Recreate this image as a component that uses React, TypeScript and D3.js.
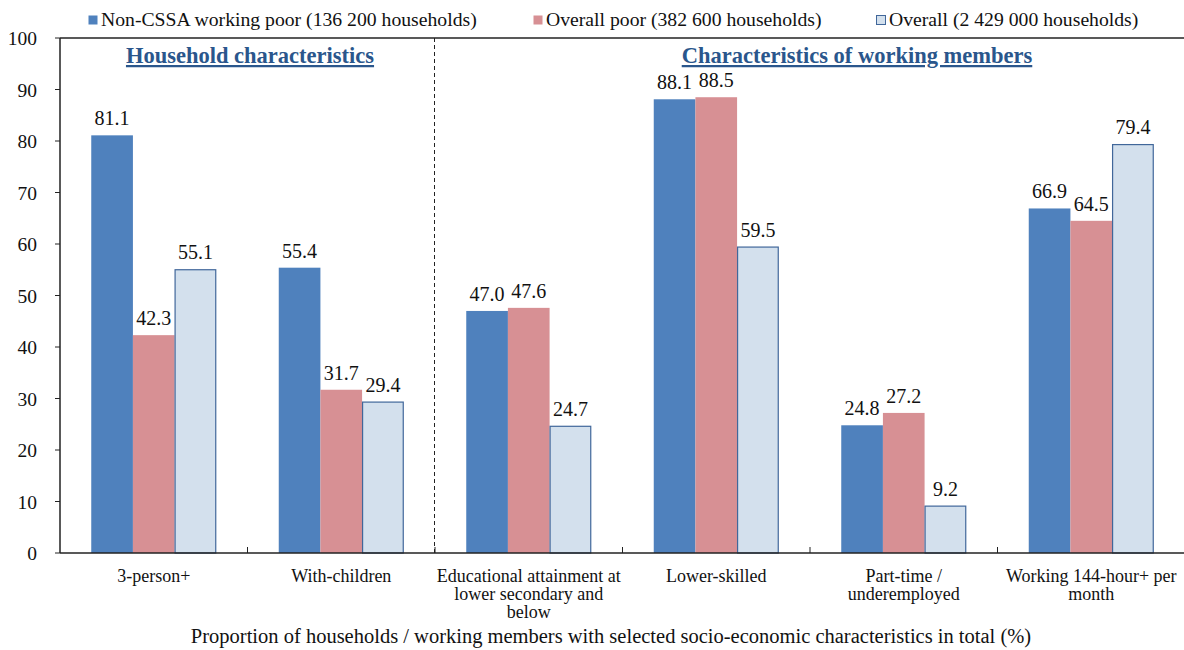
import React from "react";
import * as d3 from "d3";

const categories = [
  ["3-person+"],
  ["With-children"],
  ["Educational attainment at", "lower secondary and", "below"],
  ["Lower-skilled"],
  ["Part-time /", "underemployed"],
  ["Working 144-hour+ per", "month"],
];
const seriesNames = [
  "Non-CSSA working poor (136 200 households)",
  "Overall poor (382 600 households)",
  "Overall (2 429 000 households)",
];
const workingPoor = [81.1, 55.4, 47.0, 88.1, 24.8, 66.9];
const overallPoor = [42.3, 31.7, 47.6, 88.5, 27.2, 64.5];
const overall = [55.1, 29.4, 24.7, 59.5, 9.2, 79.4];
const yTicks = [0, 10, 20, 30, 40, 50, 60, 70, 80, 90, 100];
const headings = ["Household characteristics", "Characteristics of working members"];
const xTitle =
  "Proportion of households / working members with selected socio-economic characteristics in total (%)";

const fills = ["#4f81bd", "#d79094", "#d3e0ed"];
const strokes = ["none", "none", "#41679a"];
const font = '"Liberation Serif", "Times New Roman", "DejaVu Serif", serif';

export default function App() {
  const W = 1184;
  const H = 650;
  const left = 60;
  const right = 1185;
  const top = 38;
  const bottom = 553;
  const series = [workingPoor, overallPoor, overall];

  const x = d3.scaleBand<number>().domain(d3.range(categories.length)).range([left, right]);
  const inner = d3
    .scaleBand<number>()
    .domain([0, 1, 2])
    .range([0, x.bandwidth()])
    .paddingOuter(0.75)
    .paddingInner(0);
  const y = d3.scaleLinear().domain([0, 100]).range([bottom, top]);

  const legendX = [88, 533, 876];
  const textStyle = { fontFamily: font };

  return (
    <svg width={W} height={H} style={{ position: "absolute", left: 0, top: 0, fontFamily: font }}>
      <rect width={W} height={H} fill="#fff" />
      {/* legend */}
      {seriesNames.map((n, i) => (
        <g key={n} transform={`translate(${legendX[i]},0)`}>
          <rect
            x={0.5}
            y={15.5}
            width={9}
            height={9}
            fill={fills[i]}
            stroke={i === 2 ? "#41679a" : "none"}
          />
          <text x={13} y={26} fontSize={19.7} fill="#111" style={textStyle}>
            {n}
          </text>
        </g>
      ))}
      {/* bars */}
      {series.map((vals, s) =>
        vals.map((v, c) => (
          <rect
            key={`${s}-${c}`}
            x={(x(c) as number) + (inner(s) as number) + (s === 2 ? 0.5 : 0)}
            y={y(v) + (s === 2 ? 0.5 : 0)}
            width={inner.bandwidth() - (s === 2 ? 1 : 0)}
            height={bottom - y(v) - (s === 2 ? 0.5 : 0)}
            fill={fills[s]}
            stroke={strokes[s]}
            strokeWidth={1.2}
          />
        ))
      )}
      {/* value labels */}
      {series.map((vals, s) =>
        vals.map((v, c) => (
          <text
            key={`l${s}-${c}`}
            x={(x(c) as number) + (inner(s) as number) + inner.bandwidth() / 2}
            y={y(v) - 10}
            fontSize={20}
            textAnchor="middle"
            fill="#111"
            style={textStyle}
          >
            {v.toFixed(1)}
          </text>
        ))
      )}
      {/* frame */}
      <line x1={left} x2={W} y1={top} y2={top} stroke="#222" strokeWidth={1.5} />
      <line x1={left} x2={left} y1={top} y2={bottom} stroke="#222" strokeWidth={1.5} />
      <line x1={left} x2={W} y1={bottom} y2={bottom} stroke="#222" strokeWidth={1.5} />
      {/* y ticks */}
      {yTicks.map((t) => (
        <g key={t}>
          <line x1={left - 5} x2={left} y1={y(t)} y2={y(t)} stroke="#222" strokeWidth={1} />
          <text x={37} y={y(t) + 7} fontSize={19.5} textAnchor="end" fill="#111" style={textStyle}>
            {t}
          </text>
        </g>
      ))}
      {/* category separators */}
      {d3.range(1, categories.length).map((i) => (
        <line
          key={i}
          x1={x(i) as number}
          x2={x(i) as number}
          y1={bottom - 6}
          y2={bottom}
          stroke="#222"
          strokeWidth={1}
        />
      ))}
      {/* section divider */}
      <line
        x1={(x(2) as number) - 0.5}
        x2={(x(2) as number) - 0.5}
        y1={top}
        y2={bottom}
        stroke="#222"
        strokeWidth={1}
        strokeDasharray="4,3"
      />
      {/* section headings */}
      {[250, 857].map((cx, i) => (
        <text
          key={i}
          x={cx}
          y={63}
          fontSize={22.5}
          fontWeight="bold"
          textAnchor="middle"
          fill="#2a568c"
          textDecoration="underline"
          style={textStyle}
        >
          {headings[i]}
        </text>
      ))}
      {/* category labels */}
      {categories.map((lines, c) => (
        <text
          key={c}
          x={(x(c) as number) + x.bandwidth() / 2}
          y={582}
          fontSize={18}
          textAnchor="middle"
          fill="#111"
          style={textStyle}
        >
          {lines.map((ln, k) => (
            <tspan key={k} x={(x(c) as number) + x.bandwidth() / 2} dy={k === 0 ? 0 : 18}>
              {ln}
            </tspan>
          ))}
        </text>
      ))}
      <text x={611} y={643} fontSize={20.5} textAnchor="middle" fill="#111" style={textStyle}>
        {xTitle}
      </text>
    </svg>
  );
}
